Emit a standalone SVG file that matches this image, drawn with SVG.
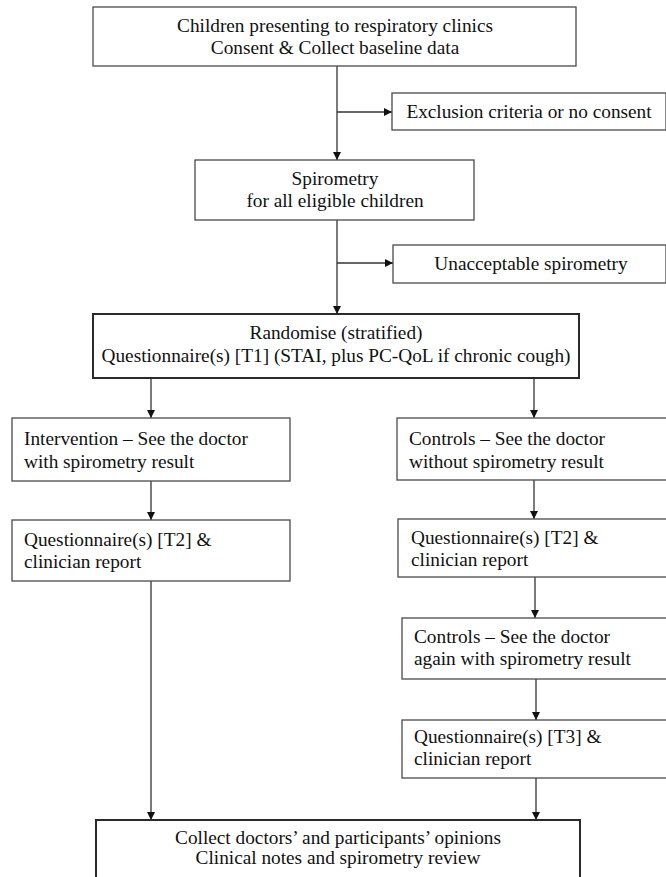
<svg xmlns="http://www.w3.org/2000/svg" width="666" height="877" viewBox="0 0 666 877">
<style>
  .box { fill: #fff; stroke: #4a4a4a; stroke-width: 1.3; }
  .bold { fill: #fff; stroke: #2a2a2a; stroke-width: 2; }
  .conn { stroke: #333; stroke-width: 1.3; fill: none; }
  text { font-family: "Liberation Serif", "Times New Roman", serif; font-size: 19.3px; fill: #111; }
  .c { text-anchor: middle; }
</style>
<defs>
  <marker id="ah" viewBox="0 0 10 10" refX="10" refY="5" markerWidth="8" markerHeight="8" markerUnits="userSpaceOnUse" orient="auto">
    <path d="M0,0 L10,5 L0,10 z" fill="#111"/>
  </marker>
</defs>
<rect width="666" height="877" fill="#fff"/>
<g id="connectors">
  <line class="conn" x1="337" y1="66" x2="337" y2="160" marker-end="url(#ah)"/>
  <line class="conn" x1="337" y1="112" x2="392" y2="112" marker-end="url(#ah)"/>
  <line class="conn" x1="337" y1="220" x2="337" y2="314" marker-end="url(#ah)"/>
  <line class="conn" x1="337" y1="263" x2="393" y2="263" marker-end="url(#ah)"/>
  <line class="conn" x1="151" y1="379" x2="151" y2="418" marker-end="url(#ah)"/>
  <line class="conn" x1="534" y1="379" x2="534" y2="418" marker-end="url(#ah)"/>
  <line class="conn" x1="151" y1="481" x2="151" y2="520" marker-end="url(#ah)"/>
  <line class="conn" x1="534" y1="480" x2="534" y2="519" marker-end="url(#ah)"/>
  <line class="conn" x1="535" y1="577" x2="535" y2="618" marker-end="url(#ah)"/>
  <line class="conn" x1="536" y1="679" x2="536" y2="720" marker-end="url(#ah)"/>
  <line class="conn" x1="536" y1="778" x2="536" y2="820" marker-end="url(#ah)"/>
  <line class="conn" x1="151" y1="581" x2="151" y2="820" marker-end="url(#ah)"/>
</g>
<g id="n1">
  <rect class="box" x="93" y="7" width="483" height="59"/>
  <text class="c" x="335" y="32">Children presenting to respiratory clinics</text>
  <text class="c" x="335" y="54">Consent &amp; Collect baseline data</text>
</g>
<g id="n2">
  <rect class="box" x="392" y="93" width="274" height="37"/>
  <text class="c" x="529" y="118">Exclusion criteria or no consent</text>
</g>
<g id="n3">
  <rect class="box" x="195" y="160" width="279" height="60"/>
  <text class="c" x="335" y="185">Spirometry</text>
  <text class="c" x="335" y="207">for all eligible children</text>
</g>
<g id="n4">
  <rect class="box" x="393" y="245" width="273" height="38"/>
  <text class="c" x="531" y="270">Unacceptable spirometry</text>
</g>
<g id="n5">
  <rect class="bold" x="93" y="314" width="486" height="64"/>
  <text class="c" x="336" y="339">Randomise (stratified)</text>
  <text class="c" x="336" y="362">Questionnaire(s) [T1] (STAI, plus PC-QoL if chronic cough)</text>
</g>
<g id="n6">
  <rect class="box" x="12" y="418" width="278" height="63"/>
  <text x="24" y="445">Intervention &#8211; See the doctor</text>
  <text x="24" y="468">with spirometry result</text>
</g>
<g id="n7">
  <rect class="box" x="397" y="418" width="272" height="62"/>
  <text x="409" y="445">Controls &#8211; See the doctor</text>
  <text x="409" y="468">without spirometry result</text>
</g>
<g id="n8">
  <rect class="box" x="12" y="520" width="278" height="61"/>
  <text x="24" y="546">Questionnaire(s) [T2] &amp;</text>
  <text x="24" y="568">clinician report</text>
</g>
<g id="n9">
  <rect class="box" x="398" y="519" width="271" height="58"/>
  <text x="411" y="544">Questionnaire(s) [T2] &amp;</text>
  <text x="411" y="566">clinician report</text>
</g>
<g id="n10">
  <rect class="box" x="402" y="618" width="267" height="61"/>
  <text x="414" y="643">Controls &#8211; See the doctor</text>
  <text x="414" y="665">again with spirometry result</text>
</g>
<g id="n11">
  <rect class="box" x="402" y="720" width="267" height="58"/>
  <text x="414" y="743">Questionnaire(s) [T3] &amp;</text>
  <text x="414" y="765">clinician report</text>
</g>
<g id="n12">
  <rect class="bold" x="96" y="820" width="484" height="70"/>
  <text class="c" x="338" y="844">Collect doctors&#8217; and participants&#8217; opinions</text>
  <text class="c" x="338" y="864">Clinical notes and spirometry review</text>
</g>
</svg>
